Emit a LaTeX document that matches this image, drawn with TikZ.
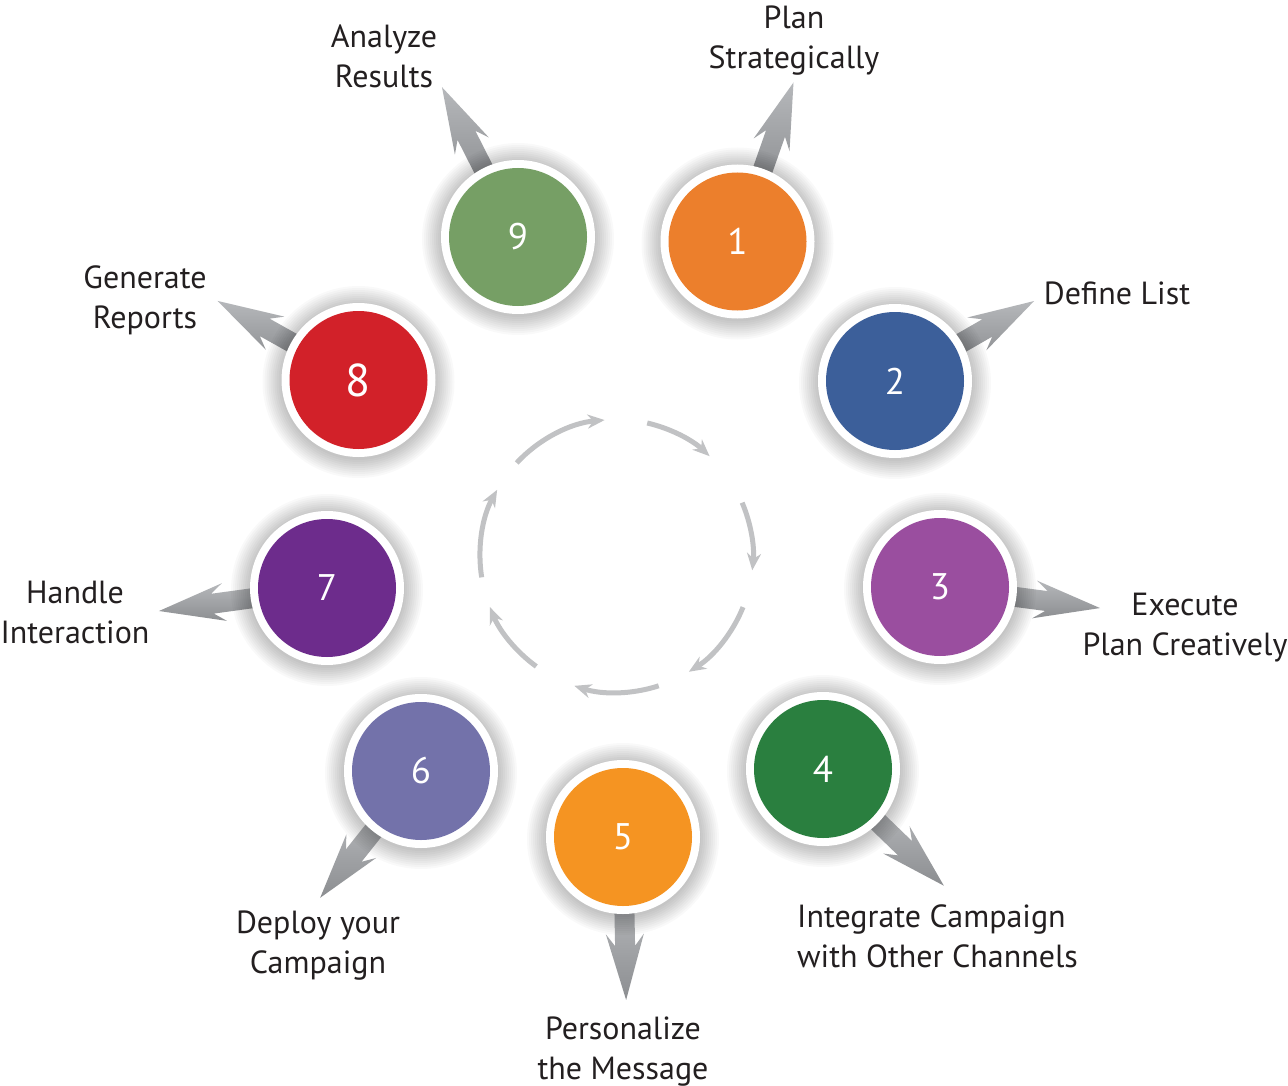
\documentclass[tikz,border=0pt]{standalone}
\usepackage{fontspec}
\setmainfont{PT Sans}
\usetikzlibrary{arrows.meta}
\pgfdeclarelayer{background}
\pgfsetlayers{background,main}
\definecolor{c1}{HTML}{EC7F2C}
\definecolor{c2}{HTML}{3C5F9A}
\definecolor{c3}{HTML}{9A4E9F}
\definecolor{c4}{HTML}{2A7F3F}
\definecolor{c5}{HTML}{F59422}
\definecolor{c6}{HTML}{7372AA}
\definecolor{c7}{HTML}{6D2C8C}
\definecolor{c8}{HTML}{D22129}
\definecolor{c9}{HTML}{769F65}
\definecolor{labtext}{HTML}{231F20}
\definecolor{arrA}{HTML}{B6B8BB}
\definecolor{arrB}{HTML}{8C8E91}
\definecolor{cyc}{HTML}{C1C2C4}
\tikzset{
  ring/.style={circle, fill=white, minimum size=154pt, inner sep=0pt},
  disc/.style={circle, fill=#1, minimum size=138pt, inner sep=0pt, text=white,
    font=\fontsize{37}{37}\selectfont},
  lab/.style={inner sep=0pt, align=center, anchor=north, text=labtext,
    font=\fontsize{32}{40}\selectfont},
  cyclearc/.style={draw=cyc, line width=5pt, -{Stealth[length=17pt,width=14pt]}},
  shaft/.style={top color=arrA, bottom color=arrB, draw=none},
}
\newcommand\outarrow[3]{%
  \begin{scope}[shift={(#1.center)}, rotate=#2]
    \shade[shaft] (60,-10) -- ({#3-54},-10) -- ({#3-66},-19) -- (#3,0)
      -- ({#3-66},19) -- ({#3-54},10) -- (60,10) -- cycle;
  \end{scope}}
\newcommand\softshadow[1]{%
  \foreach \r in {78,80,...,96}
    \fill[black, opacity=0.025] ([yshift=-2pt]#1.center) circle (\r);}
\newcommand\lt{\rule{0pt}{25pt}}
\newcommand\lb{\rule[-8pt]{0pt}{8pt}}
\begin{document}
\begin{tikzpicture}[x=1pt,y=1pt]
\useasboundingbox (0,0) rectangle (1288,-1086);

% circles
\node[ring] (r1) at (737.5,-241.5) {};
\node[disc=c1] (n1) at (r1) {1};
\node[ring] (r2) at (895,-381) {};
\node[disc=c2] (n2) at (r2) {2};
\node[ring] (r3) at (940,-587) {};
\node[disc=c3] (n3) at (r3) {3};
\node[ring] (r4) at (823,-769) {};
\node[disc=c4] (n4) at (r4) {4};
\node[ring] (r5) at (623,-837) {};
\node[disc=c5] (n5) at (r5) {5};
\node[ring] (r6) at (421,-771) {};
\node[disc=c6] (n6) at (r6) {6};
\node[ring] (r7) at (327,-588) {};
\node[disc=c7] (n7) at (r7) {7};
\node[ring] (r8) at (358.5,-380) {};
\node[disc=c8, font=\fontsize{46}{46}\selectfont] (n8) at (r8) {8};
\node[ring] (r9) at (518,-237) {};
\node[disc=c9] (n9) at (r9) {9};

% labels
\node[lab] (l1) at (794,-3) {\lt Plan\\Strategically\lb};
\node[lab] (l2) at (1117,-279) {\lt Define List};
\node[lab] (l3) at (1185,-590) {\lt Execute\\Plan Creatively\lb};
\node[lab, align=left, anchor=north west] (l4) at (797,-902) {\lt Integrate Campaign\\with Other Channels\lb};
\node[lab] (l5) at (623,-1014) {\lt Personalize\\the Message\lb};
\node[lab] (l6) at (318,-908) {\lt Deploy your\\Campaign\lb};
\node[lab] (l7) at (75,-578) {\lt Handle\\Interaction\lb};
\node[lab] (l8) at (145,-263) {\lt Generate\\Reports\lb};
\node[lab] (l9) at (384,-22) {\lt Analyze\\Results\lb};

% centre cycle
\coordinate (hub) at (616.5,-556);
\foreach \a/\b in {137/95, 77/47, 23/-6, -22/-58, -72/-108, 234/202, 189/151}
  \draw[cyclearc] (hub) ++(\a:136.5) arc[start angle=\a, end angle=\b, radius=136.5];

\begin{pgfonlayer}{background}
  \fill[white] (0,0) rectangle (1288,-1086);
  \outarrow{n1}{70.6}{168.6}
  \outarrow{n2}{29.9}{160.4}
  \outarrow{n3}{-7.5}{161.4}
  \outarrow{n4}{-44}{168}
  \outarrow{n5}{-88.9}{163}
  \outarrow{n6}{-128.5}{162}
  \outarrow{n7}{187.8}{169.6}
  \outarrow{n8}{150.7}{161.6}
  \outarrow{n9}{116.9}{168}
  \softshadow{r1}\softshadow{r2}\softshadow{r3}
  \softshadow{r4}\softshadow{r5}\softshadow{r6}
  \softshadow{r7}\softshadow{r8}\softshadow{r9}
\end{pgfonlayer}
\end{tikzpicture}
\end{document}
